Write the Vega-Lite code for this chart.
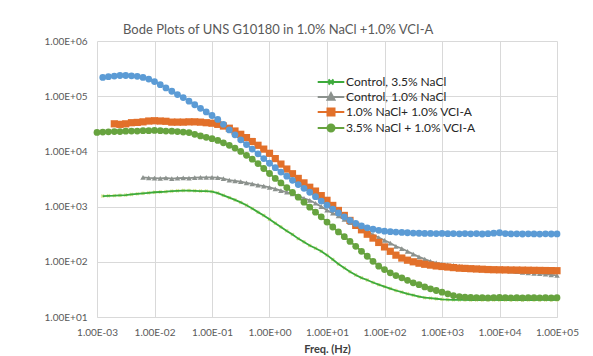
{
"$schema": "https://vega.github.io/schema/vega-lite/v6.json",
"width": 460, "height": 276,
"autosize": {"type": "none"},
"padding": {"left": 97, "top": 41, "right": 36, "bottom": 39},
"background": "white",
"title": {"text": "Bode Plots of UNS G10180 in 1.0% NaCl +1.0% VCI-A", "anchor": "start", "frame": "group", "dx": 26, "fontSize": 13, "fontWeight": "normal", "color": "#595959", "font": "Lato", "offset": -1},
"config": {
  "view": {"stroke": null},
  "font": "Lato",
  "legend": {"orient": "none", "legendX": 226, "legendY": 33, "labelFont": "Lato", "labelFontSize": 12, "labelColor": "#262626", "symbolSize": 196, "symbolStrokeWidth": 2, "symbolOpacity": 1, "labelOffset": 7, "rowPadding": -0.5}
},
"data": {"values": [
{"s":"A","f":0.00126,"z":1550},{"s":"A","f":0.00158,"z":1570},{"s":"A","f":0.002,"z":1580},{"s":"A","f":0.00251,"z":1600},{"s":"A","f":0.00316,"z":1620},{"s":"A","f":0.00398,"z":1660},{"s":"A","f":0.00501,"z":1700},{"s":"A","f":0.00631,"z":1740},{"s":"A","f":0.00794,"z":1780},
{"s":"A","f":0.01,"z":1820},{"s":"A","f":0.0126,"z":1840},{"s":"A","f":0.0158,"z":1860},{"s":"A","f":0.02,"z":1900},{"s":"A","f":0.0251,"z":1930},{"s":"A","f":0.0316,"z":1950},{"s":"A","f":0.0398,"z":1950},{"s":"A","f":0.0501,"z":1930},{"s":"A","f":0.0631,"z":1910},{"s":"A","f":0.0794,"z":1910},
{"s":"A","f":0.1,"z":1860},{"s":"A","f":0.126,"z":1760},{"s":"A","f":0.158,"z":1600},{"s":"A","f":0.2,"z":1450},{"s":"A","f":0.251,"z":1320},{"s":"A","f":0.316,"z":1190},{"s":"A","f":0.398,"z":1060},{"s":"A","f":0.501,"z":923},{"s":"A","f":0.631,"z":794},{"s":"A","f":0.794,"z":692},
{"s":"A","f":1,"z":589},{"s":"A","f":1.26,"z":501},{"s":"A","f":1.58,"z":427},{"s":"A","f":2,"z":363},{"s":"A","f":2.51,"z":313},{"s":"A","f":3.16,"z":263},{"s":"A","f":3.98,"z":229},{"s":"A","f":5.01,"z":197},{"s":"A","f":6.31,"z":176},{"s":"A","f":7.94,"z":155},
{"s":"A","f":10,"z":132},{"s":"A","f":12.6,"z":110},{"s":"A","f":15.8,"z":91.2},{"s":"A","f":20,"z":77.6},{"s":"A","f":25.1,"z":66.1},{"s":"A","f":31.6,"z":57.5},{"s":"A","f":39.8,"z":51.3},{"s":"A","f":50.1,"z":46.8},{"s":"A","f":63.1,"z":42.2},{"s":"A","f":79.4,"z":38.5},
{"s":"A","f":100,"z":35.5},{"s":"A","f":126,"z":32.7},{"s":"A","f":158,"z":30.2},{"s":"A","f":200,"z":28.2},{"s":"A","f":251,"z":26.3},{"s":"A","f":316,"z":24.8},{"s":"A","f":398,"z":23.4},{"s":"A","f":501,"z":22.4},{"s":"A","f":631,"z":21.9},{"s":"A","f":794,"z":21.4},
{"s":"A","f":1000,"z":20.9},{"s":"A","f":1260,"z":20.6},{"s":"A","f":1580,"z":20.5},{"s":"A","f":2000,"z":20.4},{"s":"A","f":2510,"z":20.4},{"s":"A","f":3160,"z":20.3},{"s":"A","f":3980,"z":20.4},{"s":"A","f":5010,"z":20.3},{"s":"A","f":6310,"z":20.4},{"s":"A","f":7940,"z":20.4},
{"s":"A","f":10000,"z":20.3},{"s":"A","f":12600,"z":20.4},{"s":"A","f":15800,"z":20.3},{"s":"A","f":20000,"z":20.4},{"s":"A","f":25100,"z":20.3},{"s":"A","f":31600,"z":20.4},{"s":"A","f":39800,"z":20.3},{"s":"A","f":50100,"z":20.4},{"s":"A","f":63100,"z":20.4},{"s":"A","f":79400,"z":20.3},{"s":"A","f":100000,"z":20.4},

{"s":"B","f":0.00631,"z":3390},{"s":"B","f":0.00794,"z":3310},
{"s":"B","f":0.01,"z":3270},{"s":"B","f":0.0126,"z":3240},{"s":"B","f":0.0158,"z":3310},{"s":"B","f":0.02,"z":3200},{"s":"B","f":0.0251,"z":3270},{"s":"B","f":0.0316,"z":3310},{"s":"B","f":0.0398,"z":3270},{"s":"B","f":0.0501,"z":3350},{"s":"B","f":0.0631,"z":3390},{"s":"B","f":0.0794,"z":3390},
{"s":"B","f":0.1,"z":3390},{"s":"B","f":0.126,"z":3350},{"s":"B","f":0.158,"z":3200},{"s":"B","f":0.2,"z":3020},{"s":"B","f":0.251,"z":2920},{"s":"B","f":0.316,"z":2820},{"s":"B","f":0.398,"z":2690},{"s":"B","f":0.501,"z":2570},{"s":"B","f":0.631,"z":2450},{"s":"B","f":0.794,"z":2340},
{"s":"B","f":1,"z":2240},{"s":"B","f":1.26,"z":2090},{"s":"B","f":1.58,"z":1950},{"s":"B","f":2,"z":1820},{"s":"B","f":2.51,"z":1700},{"s":"B","f":3.16,"z":1550},{"s":"B","f":3.98,"z":1410},{"s":"B","f":5.01,"z":1300},{"s":"B","f":6.31,"z":1150},{"s":"B","f":7.94,"z":1000},
{"s":"B","f":10,"z":861},{"s":"B","f":12.6,"z":759},{"s":"B","f":15.8,"z":676},{"s":"B","f":20,"z":589},{"s":"B","f":25.1,"z":513},{"s":"B","f":31.6,"z":457},{"s":"B","f":39.8,"z":398},{"s":"B","f":50.1,"z":355},{"s":"B","f":63.1,"z":309},{"s":"B","f":79.4,"z":275},
{"s":"B","f":100,"z":245},{"s":"B","f":126,"z":219},{"s":"B","f":158,"z":191},{"s":"B","f":200,"z":174},{"s":"B","f":251,"z":155},{"s":"B","f":316,"z":138},{"s":"B","f":398,"z":123},{"s":"B","f":501,"z":112},{"s":"B","f":631,"z":102},{"s":"B","f":794,"z":95.5},
{"s":"B","f":1000,"z":91.2},{"s":"B","f":1260,"z":88.1},{"s":"B","f":1580,"z":86.1},{"s":"B","f":2000,"z":83.2},{"s":"B","f":2510,"z":81.3},{"s":"B","f":3160,"z":79.4},{"s":"B","f":3980,"z":77.6},{"s":"B","f":5010,"z":75.9},{"s":"B","f":6310,"z":74.1},{"s":"B","f":7940,"z":72.4},
{"s":"B","f":10000,"z":70.8},{"s":"B","f":12600,"z":69.2},{"s":"B","f":15800,"z":67.6},{"s":"B","f":20000,"z":66.1},{"s":"B","f":25100,"z":64.6},{"s":"B","f":31600,"z":63.1},{"s":"B","f":39800,"z":61.7},{"s":"B","f":50100,"z":61},{"s":"B","f":63100,"z":59.6},{"s":"B","f":79400,"z":58.2},{"s":"B","f":100000,"z":56.9},

{"s":"C","f":0.002,"z":31600},{"s":"C","f":0.00251,"z":30900},{"s":"C","f":0.00316,"z":31600},{"s":"C","f":0.00398,"z":33100},{"s":"C","f":0.00501,"z":33500},{"s":"C","f":0.00631,"z":34300},{"s":"C","f":0.00794,"z":35500},
{"s":"C","f":0.01,"z":35900},{"s":"C","f":0.0126,"z":35500},{"s":"C","f":0.0158,"z":35100},{"s":"C","f":0.02,"z":33900},{"s":"C","f":0.0251,"z":33900},{"s":"C","f":0.0316,"z":33900},{"s":"C","f":0.0398,"z":34300},{"s":"C","f":0.0501,"z":34300},{"s":"C","f":0.0631,"z":33900},{"s":"C","f":0.0794,"z":33100},
{"s":"C","f":0.1,"z":32400},{"s":"C","f":0.126,"z":30900},{"s":"C","f":0.158,"z":28800},{"s":"C","f":0.2,"z":26300},{"s":"C","f":0.251,"z":23400},{"s":"C","f":0.316,"z":20400},{"s":"C","f":0.398,"z":17800},{"s":"C","f":0.501,"z":15100},{"s":"C","f":0.631,"z":12900},{"s":"C","f":0.794,"z":11000},
{"s":"C","f":1,"z":9230},{"s":"C","f":1.26,"z":7410},{"s":"C","f":1.58,"z":5890},{"s":"C","f":2,"z":4790},{"s":"C","f":2.51,"z":3940},{"s":"C","f":3.16,"z":3240},{"s":"C","f":3.98,"z":2690},{"s":"C","f":5.01,"z":2240},{"s":"C","f":6.31,"z":1910},{"s":"C","f":7.94,"z":1580},
{"s":"C","f":10,"z":1300},{"s":"C","f":12.6,"z":1050},{"s":"C","f":15.8,"z":851},{"s":"C","f":20,"z":692},{"s":"C","f":25.1,"z":562},{"s":"C","f":31.6,"z":457},{"s":"C","f":39.8,"z":380},{"s":"C","f":50.1,"z":316},{"s":"C","f":63.1,"z":269},{"s":"C","f":79.4,"z":224},
{"s":"C","f":100,"z":186},{"s":"C","f":126,"z":155},{"s":"C","f":158,"z":132},{"s":"C","f":200,"z":117},{"s":"C","f":251,"z":107},{"s":"C","f":316,"z":100},{"s":"C","f":398,"z":94.4},{"s":"C","f":501,"z":90.2},{"s":"C","f":631,"z":87.1},{"s":"C","f":794,"z":84.1},
{"s":"C","f":1000,"z":82.2},{"s":"C","f":1260,"z":80.4},{"s":"C","f":1580,"z":78.5},{"s":"C","f":2000,"z":76.7},{"s":"C","f":2510,"z":75.9},{"s":"C","f":3160,"z":75},{"s":"C","f":3980,"z":74.1},{"s":"C","f":5010,"z":73.3},{"s":"C","f":6310,"z":72.4},{"s":"C","f":7940,"z":71.9},
{"s":"C","f":10000,"z":71.6},{"s":"C","f":12600,"z":71.3},{"s":"C","f":15800,"z":71},{"s":"C","f":20000,"z":70.8},{"s":"C","f":25100,"z":70.5},{"s":"C","f":31600,"z":70.3},{"s":"C","f":39800,"z":70},{"s":"C","f":50100,"z":69.8},{"s":"C","f":63100,"z":69.5},{"s":"C","f":79400,"z":69.3},{"s":"C","f":100000,"z":69},

{"s":"D","f":0.001,"z":22100},{"s":"D","f":0.00126,"z":22400},{"s":"D","f":0.00158,"z":22600},{"s":"D","f":0.002,"z":22900},{"s":"D","f":0.00251,"z":22900},{"s":"D","f":0.00316,"z":23200},{"s":"D","f":0.00398,"z":23400},{"s":"D","f":0.00501,"z":23400},{"s":"D","f":0.00631,"z":23700},{"s":"D","f":0.00794,"z":23700},
{"s":"D","f":0.01,"z":24000},{"s":"D","f":0.0126,"z":23700},{"s":"D","f":0.0158,"z":23400},{"s":"D","f":0.02,"z":23200},{"s":"D","f":0.0251,"z":22900},{"s":"D","f":0.0316,"z":22400},{"s":"D","f":0.0398,"z":21900},{"s":"D","f":0.0501,"z":20400},{"s":"D","f":0.0631,"z":19100},{"s":"D","f":0.0794,"z":18000},
{"s":"D","f":0.1,"z":17000},{"s":"D","f":0.126,"z":15800},{"s":"D","f":0.158,"z":14300},{"s":"D","f":0.2,"z":12900},{"s":"D","f":0.251,"z":11500},{"s":"D","f":0.316,"z":10000},{"s":"D","f":0.398,"z":8510},{"s":"D","f":0.501,"z":7240},{"s":"D","f":0.631,"z":6030},{"s":"D","f":0.794,"z":4900},
{"s":"D","f":1,"z":3980},{"s":"D","f":1.26,"z":3240},{"s":"D","f":1.58,"z":2690},{"s":"D","f":2,"z":2210},{"s":"D","f":2.51,"z":1800},{"s":"D","f":3.16,"z":1480},{"s":"D","f":3.98,"z":1200},{"s":"D","f":5.01,"z":977},{"s":"D","f":6.31,"z":794},{"s":"D","f":7.94,"z":653},
{"s":"D","f":10,"z":525},{"s":"D","f":12.6,"z":427},{"s":"D","f":15.8,"z":347},{"s":"D","f":20,"z":285},{"s":"D","f":25.1,"z":234},{"s":"D","f":31.6,"z":191},{"s":"D","f":39.8,"z":155},{"s":"D","f":50.1,"z":126},{"s":"D","f":63.1,"z":102},{"s":"D","f":79.4,"z":83.2},
{"s":"D","f":100,"z":72.4},{"s":"D","f":126,"z":63.1},{"s":"D","f":158,"z":56.2},{"s":"D","f":200,"z":51.3},{"s":"D","f":251,"z":46.2},{"s":"D","f":316,"z":41.7},{"s":"D","f":398,"z":38.5},{"s":"D","f":501,"z":35.1},{"s":"D","f":631,"z":32.4},{"s":"D","f":794,"z":30.2},
{"s":"D","f":1000,"z":28.2},{"s":"D","f":1260,"z":26.3},{"s":"D","f":1580,"z":24.5},{"s":"D","f":2000,"z":23.4},{"s":"D","f":2510,"z":22.9},{"s":"D","f":3160,"z":22.6},{"s":"D","f":3980,"z":22.4},{"s":"D","f":5010,"z":22.4},{"s":"D","f":6310,"z":22.2},{"s":"D","f":7940,"z":22.4},
{"s":"D","f":10000,"z":22.6},{"s":"D","f":12600,"z":22.4},{"s":"D","f":15800,"z":22.3},{"s":"D","f":20000,"z":22.4},{"s":"D","f":25100,"z":22.2},{"s":"D","f":31600,"z":22.4},{"s":"D","f":39800,"z":22.5},{"s":"D","f":50100,"z":22.3},{"s":"D","f":63100,"z":22.4},{"s":"D","f":79400,"z":22.3},{"s":"D","f":100000,"z":22.4},

{"s":"E","f":0.00126,"z":219000},{"s":"E","f":0.00158,"z":226000},{"s":"E","f":0.002,"z":232000},{"s":"E","f":0.00251,"z":237000},{"s":"E","f":0.00316,"z":237000},{"s":"E","f":0.00398,"z":234000},{"s":"E","f":0.00501,"z":229000},{"s":"E","f":0.00631,"z":219000},{"s":"E","f":0.00794,"z":204000},
{"s":"E","f":0.01,"z":184000},{"s":"E","f":0.0126,"z":162000},{"s":"E","f":0.0158,"z":141000},{"s":"E","f":0.02,"z":123000},{"s":"E","f":0.0251,"z":107000},{"s":"E","f":0.0316,"z":94400},{"s":"E","f":0.0398,"z":81300},{"s":"E","f":0.0501,"z":70000},{"s":"E","f":0.0631,"z":60300},{"s":"E","f":0.0794,"z":51900},
{"s":"E","f":0.1,"z":44700},{"s":"E","f":0.126,"z":38000},{"s":"E","f":0.158,"z":30900},{"s":"E","f":0.2,"z":24500},{"s":"E","f":0.251,"z":20000},{"s":"E","f":0.316,"z":16200},{"s":"E","f":0.398,"z":13300},{"s":"E","f":0.501,"z":11000},{"s":"E","f":0.631,"z":9020},{"s":"E","f":0.794,"z":7410},
{"s":"E","f":1,"z":6100},{"s":"E","f":1.26,"z":5070},{"s":"E","f":1.58,"z":4220},{"s":"E","f":2,"z":3550},{"s":"E","f":2.51,"z":2990},{"s":"E","f":3.16,"z":2510},{"s":"E","f":3.98,"z":2140},{"s":"E","f":5.01,"z":1820},{"s":"E","f":6.31,"z":1510},{"s":"E","f":7.94,"z":1260},
{"s":"E","f":10,"z":1060},{"s":"E","f":12.6,"z":902},{"s":"E","f":15.8,"z":767},{"s":"E","f":20,"z":653},{"s":"E","f":25.1,"z":562},{"s":"E","f":31.6,"z":495},{"s":"E","f":39.8,"z":447},{"s":"E","f":50.1,"z":412},{"s":"E","f":63.1,"z":389},{"s":"E","f":79.4,"z":372},
{"s":"E","f":100,"z":359},{"s":"E","f":126,"z":351},{"s":"E","f":158,"z":345},{"s":"E","f":200,"z":340},{"s":"E","f":251,"z":336},{"s":"E","f":316,"z":332},{"s":"E","f":398,"z":329},{"s":"E","f":501,"z":327},{"s":"E","f":631,"z":326},{"s":"E","f":794,"z":324},
{"s":"E","f":1000,"z":326},{"s":"E","f":1260,"z":323},{"s":"E","f":1580,"z":325},{"s":"E","f":2000,"z":322},{"s":"E","f":2510,"z":324},{"s":"E","f":3160,"z":321},{"s":"E","f":3980,"z":325},{"s":"E","f":5010,"z":319},{"s":"E","f":6310,"z":323},{"s":"E","f":7940,"z":330},
{"s":"E","f":10000,"z":336},{"s":"E","f":12600,"z":325},{"s":"E","f":15800,"z":320},{"s":"E","f":20000,"z":322},{"s":"E","f":25100,"z":319},{"s":"E","f":31600,"z":321},{"s":"E","f":39800,"z":320},{"s":"E","f":50100,"z":318},{"s":"E","f":63100,"z":321},{"s":"E","f":79400,"z":319},{"s":"E","f":100000,"z":320}
]},
"encoding": {
  "x": {"field": "f", "type": "quantitative", "scale": {"type": "log", "domain": [0.001, 100000], "nice": false},
    "axis": {"title": "Freq. (Hz)", "values": [0.001, 0.01, 0.1, 1, 10, 100, 1000, 10000, 100000],
      "labelExpr": "'1.00E' + (log(datum.value)/LN10 < -0.5 ? '-' : '+') + '0' + abs(round(log(datum.value)/LN10))",
      "grid": true, "gridColor": "#D9D9D9", "gridWidth": 1, "domainColor": "#D9D9D9", "ticks": false,
      "labelFont": "Lato", "labelFontSize": 10, "labelColor": "#595959", "labelPadding": 10, "labelFlush": false, "labelOverlap": false,
      "titleFont": "Lato", "titleFontSize": 11, "titleFontWeight": "bold", "titleColor": "#404040", "titlePadding": 6}},
  "y": {"field": "z", "type": "quantitative", "scale": {"type": "log", "domain": [10, 1000000], "nice": false},
    "axis": {"title": null, "values": [10, 100, 1000, 10000, 100000, 1000000],
      "labelExpr": "'1.00E' + (log(datum.value)/LN10 < -0.5 ? '-' : '+') + '0' + abs(round(log(datum.value)/LN10))",
      "grid": true, "gridColor": "#D9D9D9", "gridWidth": 1, "domain": false, "ticks": false,
      "labelFont": "Lato", "labelFontSize": 10, "labelColor": "#595959", "labelPadding": 10, "labelFlush": false, "labelOverlap": false}}
},
"layer": [
  {"transform": [{"filter": {"field": "s", "equal": "A"}}],
   "mark": {"type": "point", "shape": "cross", "angle": 45, "size": 16, "filled": true, "opacity": 0.9},
   "encoding": {"fill": {"field": "s", "type": "nominal", "scale": {"domain": ["A","B","C","D","E"], "range": ["#D2E184","#8C928E","#E2702A","#67A33F","#5B9BD5"]}}}},
  {"mark": {"type": "line", "strokeWidth": 1.8},
   "encoding": {"stroke": {"field": "s", "type": "nominal", "scale": {"domain": ["A","B","C","D","E"], "range": ["#3DAA3C","#8C928E","#E2702A","#67A33F","#5B9BD5"]}}, "detail": {"field": "s"}}},
  {"transform": [{"filter": {"field": "s", "equal": "B"}}],
   "mark": {"type": "point", "shape": "triangle-up", "size": 30, "filled": true, "opacity": 1},
   "encoding": {"fill": {"field": "s", "type": "nominal"}}},
  {"transform": [{"filter": {"field": "s", "equal": "C"}}],
   "mark": {"type": "point", "shape": "square", "size": 52, "filled": true, "opacity": 1},
   "encoding": {"fill": {"field": "s", "type": "nominal"}}},
  {"transform": [{"filter": {"field": "s", "oneOf": ["D","E"]}}],
   "mark": {"type": "point", "shape": "circle", "size": 46, "filled": true, "opacity": 1},
   "encoding": {"fill": {"field": "s", "type": "nominal"}}},
  {"mark": {"type": "point", "filled": true, "opacity": 0},
   "encoding": {
     "fill": {"field": "s", "type": "nominal", "legend": {"title": null, "rowPadding": -0.5, "values": ["A","B","C","D"], "labelExpr": "datum.label == 'A' ? 'Control, 3.5% NaCl' : datum.label == 'B' ? 'Control, 1.0% NaCl' : datum.label == 'C' ? '1.0% NaCl+ 1.0% VCI-A' : '3.5% NaCl + 1.0% VCI-A'"}},
     "stroke": {"field": "s", "type": "nominal", "legend": {"title": null, "rowPadding": -0.5, "values": ["A","B","C","D"], "labelExpr": "datum.label == 'A' ? 'Control, 3.5% NaCl' : datum.label == 'B' ? 'Control, 1.0% NaCl' : datum.label == 'C' ? '1.0% NaCl+ 1.0% VCI-A' : '3.5% NaCl + 1.0% VCI-A'"}},
     "shape": {"field": "s", "type": "nominal", "scale": {"domain": ["A","B","C","D","E"], "range": ["M-1.9,0H1.9M-0.36,-0.36L0.36,0.36M-0.36,0.36L0.36,-0.36", "M-1.9,0H1.9M0,-0.55L0.5,0.4H-0.5Z", "M-1.9,0H1.9M-0.5,-0.5H0.5V0.5H-0.5Z", "M-1.9,0H1.9M-0.5,0A0.5,0.5 0 1,0 0.5,0A0.5,0.5 0 1,0 -0.5,0Z", "M-1.9,0H1.9"]},
       "legend": {"title": null, "rowPadding": -0.5, "values": ["A","B","C","D"], "labelExpr": "datum.label == 'A' ? 'Control, 3.5% NaCl' : datum.label == 'B' ? 'Control, 1.0% NaCl' : datum.label == 'C' ? '1.0% NaCl+ 1.0% VCI-A' : '3.5% NaCl + 1.0% VCI-A'"}}
   }}
]
}
